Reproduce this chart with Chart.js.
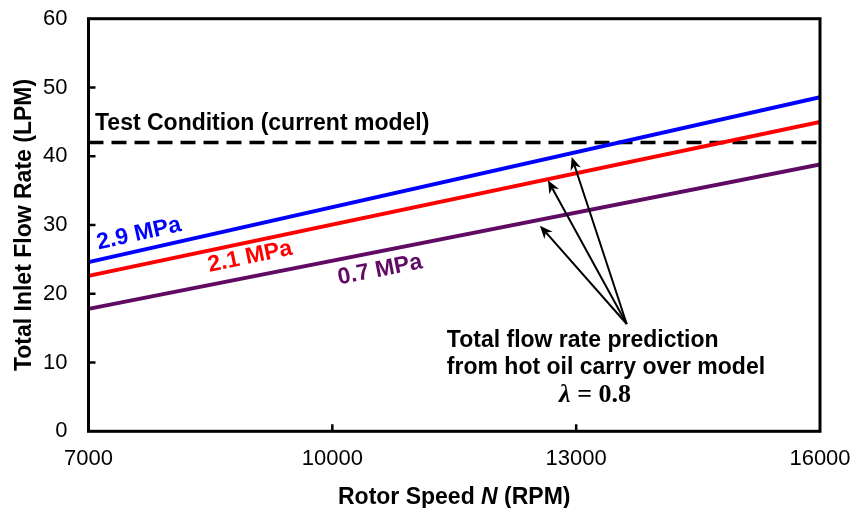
<!DOCTYPE html>
<html>
<head>
<meta charset="utf-8">
<script src="https://cdn.jsdelivr.net/npm/chart.js@4.4.1/dist/chart.umd.min.js"></script>
<style>
  html, body { margin: 0; padding: 0; background: #fff; }
  #wrap { width: 853px; height: 508px; }
</style>
</head>
<body>
<div id="wrap"><canvas id="c" width="853" height="508"></canvas></div>
<script>
// Rotor speed (RPM) at the ends of each prediction line
const rotorSpeeds = [7000, 16000];
// Total inlet flow rate (LPM) for each supply pressure
const flow29MPa = [24.6, 48.6];
const flow21MPa = [22.6, 45.0];
const flow07MPa = [17.8, 38.8];
// Flow rate of the test condition (current model)
const testCondition = [42, 42];
// Axis ticks
const xTickValues = [7000, 10000, 13000, 16000];
const yTickValues = [0, 10, 20, 30, 40, 50, 60];

const SANS = '"Liberation Sans", Arial, sans-serif';
const SERIF = '"Liberation Serif", "Times New Roman", serif';
const PURPLE = '#600A64';

const toPoints = ys => rotorSpeeds.map((x, i) => ({ x, y: ys[i] }));

// Annotation anchors in data units
const notes = {
  testLabel: { text: 'Test Condition (current model)', x: 7080, y: 43.8 },
  seriesLabels: [
    { text: '2.9 MPa', color: '#0000FF', x: 7621, y: 28.7, series: flow29MPa },
    { text: '2.1 MPa', color: '#FF0000', x: 8987, y: 25.35, series: flow21MPa },
    { text: '0.7 MPa', color: PURPLE, x: 10586, y: 23.45, series: flow07MPa }
  ],
  arrowFrom: { x: 13622, y: 15.6 },
  arrowTo: [
    { x: 12945, y: 39.9 },
    { x: 12653, y: 36.5 },
    { x: 12554, y: 29.9 }
  ],
  caption: [
    { text: 'Total flow rate prediction', x: 11409, y: 12.3 },
    { text: 'from hot oil carry over model', x: 11409, y: 8.33 }
  ],
  lambda: { x: 13232, y: 4.3 }
};

function arrow(ctx, x0, y0, x1, y1) {
  const ang = Math.atan2(y1 - y0, x1 - x0);
  const len = 13, half = 5.5, notch = 9;
  const bx = x1 - len * Math.cos(ang), by = y1 - len * Math.sin(ang);
  const nx = x1 - notch * Math.cos(ang), ny = y1 - notch * Math.sin(ang);
  ctx.beginPath();
  ctx.moveTo(x0, y0);
  ctx.lineTo(nx, ny);
  ctx.lineWidth = 2;
  ctx.strokeStyle = '#000';
  ctx.stroke();
  ctx.beginPath();
  ctx.moveTo(x1, y1);
  ctx.lineTo(bx + half * Math.sin(ang), by - half * Math.cos(ang));
  ctx.lineTo(nx, ny);
  ctx.lineTo(bx - half * Math.sin(ang), by + half * Math.cos(ang));
  ctx.closePath();
  ctx.fillStyle = '#000';
  ctx.fill();
}

const framePlugin = {
  id: 'frameAndNotes',
  afterDatasetsDraw(chart) {
    const { ctx, chartArea: a, scales: { x: xs, y: ys } } = chart;
    ctx.save();
    // plot frame
    ctx.strokeStyle = '#000';
    ctx.lineWidth = 3;
    ctx.strokeRect(a.left, a.top, a.right - a.left, a.bottom - a.top);
    // inward tick marks
    ctx.lineWidth = 2.5;
    ctx.beginPath();
    yTickValues.slice(1, -1).forEach(v => {
      const py = ys.getPixelForValue(v);
      ctx.moveTo(a.left, py); ctx.lineTo(a.left + 7, py);
    });
    xTickValues.slice(1, -1).forEach(v => {
      const px = xs.getPixelForValue(v);
      ctx.moveTo(px, a.bottom); ctx.lineTo(px, a.bottom - 7);
    });
    ctx.stroke();

    // test condition label
    ctx.fillStyle = '#000';
    ctx.font = 'bold 23px ' + SANS;
    ctx.textAlign = 'left';
    ctx.textBaseline = 'alphabetic';
    ctx.fillText(notes.testLabel.text, xs.getPixelForValue(notes.testLabel.x), ys.getPixelForValue(notes.testLabel.y));

    // pressure labels, tilted along their lines
    notes.seriesLabels.forEach(l => {
      const dx = xs.getPixelForValue(rotorSpeeds[1]) - xs.getPixelForValue(rotorSpeeds[0]);
      const dy = ys.getPixelForValue(l.series[1]) - ys.getPixelForValue(l.series[0]);
      ctx.save();
      ctx.translate(xs.getPixelForValue(l.x), ys.getPixelForValue(l.y));
      ctx.rotate(Math.atan2(dy, dx));
      ctx.fillStyle = l.color;
      ctx.font = 'bold 23px ' + SANS;
      ctx.textAlign = 'center';
      ctx.textBaseline = 'middle';
      ctx.fillText(l.text, 0, 0);
      ctx.restore();
    });

    // arrows
    const fx = xs.getPixelForValue(notes.arrowFrom.x), fy = ys.getPixelForValue(notes.arrowFrom.y);
    notes.arrowTo.forEach(t => arrow(ctx, fx, fy, xs.getPixelForValue(t.x), ys.getPixelForValue(t.y)));

    // caption
    ctx.fillStyle = '#000';
    ctx.font = 'bold 23px ' + SANS;
    ctx.textAlign = 'left';
    ctx.textBaseline = 'alphabetic';
    notes.caption.forEach(c => ctx.fillText(c.text, xs.getPixelForValue(c.x), ys.getPixelForValue(c.y)));

    // lambda = 0.8
    const parts = [
      { t: 'λ', f: 'italic bold 26px ' + SERIF },
      { t: ' = ', f: 'bold 26px ' + SERIF },
      { t: '0.8', f: 'bold 26px ' + SERIF }
    ];
    let total = 0;
    parts.forEach(p => { ctx.font = p.f; p.w = ctx.measureText(p.t).width; total += p.w; });
    let cx = xs.getPixelForValue(notes.lambda.x) - total / 2;
    const by = ys.getPixelForValue(notes.lambda.y);
    parts.forEach(p => { ctx.font = p.f; ctx.fillText(p.t, cx, by); cx += p.w; });
    ctx.restore();
  },
  afterDraw(chart) {
    const { ctx, chartArea: a } = chart;
    ctx.save();
    ctx.fillStyle = '#000';
    ctx.textBaseline = 'alphabetic';
    // y-axis title
    ctx.font = 'bold 23px ' + SANS;
    ctx.save();
    ctx.translate(31, (a.top + a.bottom) / 2);
    ctx.rotate(-Math.PI / 2);
    ctx.textAlign = 'center';
    ctx.fillText('Total Inlet Flow Rate (LPM)', 0, 0);
    ctx.restore();
    // x-axis title with italic N
    const parts = [
      { t: 'Rotor Speed ', f: 'bold 23px ' + SANS },
      { t: 'N', f: 'italic bold 23px ' + SANS },
      { t: ' (RPM)', f: 'bold 23px ' + SANS }
    ];
    let total = 0;
    parts.forEach(p => { ctx.font = p.f; p.w = ctx.measureText(p.t).width; total += p.w; });
    let cx = (a.left + a.right) / 2 - total / 2;
    ctx.textAlign = 'left';
    parts.forEach(p => { ctx.font = p.f; ctx.fillText(p.t, cx, 504); cx += p.w; });
    ctx.restore();
  }
};

new Chart(document.getElementById('c'), {
  type: 'line',
  data: {
    datasets: [
      { label: '2.9 MPa', data: toPoints(flow29MPa), borderColor: '#0000FF', borderWidth: 4, pointRadius: 0 },
      { label: '2.1 MPa', data: toPoints(flow21MPa), borderColor: '#FF0000', borderWidth: 4, pointRadius: 0 },
      { label: '0.7 MPa', data: toPoints(flow07MPa), borderColor: PURPLE, borderWidth: 4, pointRadius: 0 },
      { label: 'Test Condition', data: toPoints(testCondition), borderColor: '#000', borderWidth: 3.5, borderDash: [15, 8], pointRadius: 0 }
    ]
  },
  options: {
    responsive: false,
    animation: false,
    events: [],
    layout: { padding: { left: 0, right: 33, top: 18.7, bottom: 0 } },
    plugins: { legend: { display: false }, tooltip: { enabled: false } },
    scales: {
      x: {
        type: 'linear',
        min: 7000, max: 16000,
        afterBuildTicks: s => { s.ticks = xTickValues.map(v => ({ value: v })); },
        afterFit: s => { s.height = 76.7; s.paddingLeft = 0; s.paddingRight = 0; },
        grid: { display: false, drawTicks: false },
        border: { display: false },
        ticks: { color: '#000', font: { family: SANS, size: 22 }, padding: 14, maxRotation: 0, callback: v => String(v) }
      },
      y: {
        min: 0, max: 60,
        afterBuildTicks: s => { s.ticks = yTickValues.map(v => ({ value: v })); },
        afterFit: s => { s.width = 88.5; s.paddingTop = 0; s.paddingBottom = 0; },
        grid: { display: false, drawTicks: false },
        border: { display: false },
        ticks: { color: '#000', font: { family: SANS, size: 22 }, padding: 21 }
      }
    }
  },
  plugins: [framePlugin]
});
</script>
</body>
</html>
